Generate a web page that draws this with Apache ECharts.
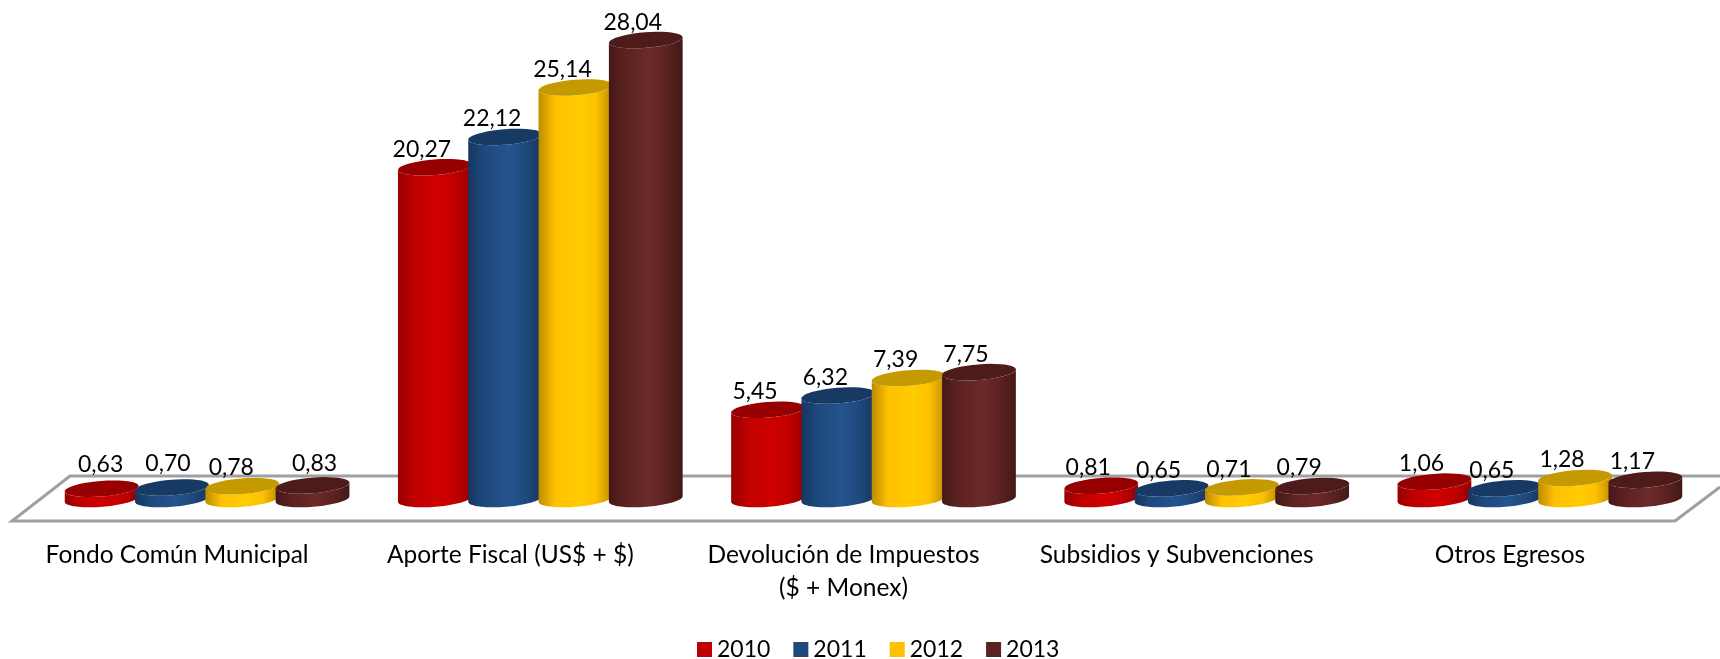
<!DOCTYPE html>
<html>
<head>
<meta charset="utf-8">
<title>Egresos</title>
<script src="https://cdn.jsdelivr.net/npm/echarts@6/dist/echarts.min.js"></script>
<style>
html, body { margin: 0; padding: 0; background: #fff; }
#chart { width: 1720px; height: 659px; }
</style>
</head>
<body>
<div id="chart"></div>
<script>
const categories = [
  'Fondo Común Municipal',
  'Aporte Fiscal (US$ + $)',
  'Devolución de Impuestos\n($ + Monex)',
  'Subsidios y Subvenciones',
  'Otros Egresos'
]
const years = ['2010', '2011', '2012', '2013']
const values2010 = [0.63, 20.27, 5.45, 0.81, 1.06]
const values2011 = [0.70, 22.12, 6.32, 0.65, 0.65]
const values2012 = [0.78, 25.14, 7.39, 0.71, 1.28]
const values2013 = [0.83, 28.04, 7.75, 0.79, 1.17]

// base, side highlight, side edge, top cap
const colors2010 = ['#c00000', '#d00000', '#960000', '#960000']
const colors2011 = ['#1f497d', '#24538f', '#153660', '#173a64']
const colors2012 = ['#ffc000', '#ffcc00', '#bd8c00', '#c49a00']
const colors2013 = ['#5c2221', '#6b2a28', '#431817', '#4d1c1a']

const FONT = 'Lato'
const TILT = -4.5 * Math.PI / 180
const RX = 37
const RY = 7.8
const PITCH = 0.211 // bar spacing as a share of the category band

// labels of the first group were moved by hand in the original, [dx, dy] per series
const firstGroupNudge = [[12, -6], [9, -6], [2, -1], [15, -4]]

function ellipsePoint(cx, cy, t) {
  const ex = RX * Math.cos(t)
  const ey = RY * Math.sin(t)
  return [
    cx + ex * Math.cos(TILT) - ey * Math.sin(TILT),
    cy + ex * Math.sin(TILT) + ey * Math.cos(TILT)
  ]
}

function ellipsePoints(cx, cy, from, to) {
  let pts = []
  for (let i = 0; i <= 40; i++) {
    pts.push(ellipsePoint(cx, cy, from + (to - from) * i / 40))
  }
  return pts
}

function cylinderSeries(name, data, colors, idx) {
  return {
    name: name,
    type: 'custom',
    data: data.map((v, i) => [i, v]),
    itemStyle: { color: colors[0] },
    z: 3 + idx,
    renderItem: (params, api) => {
      const band = api.size([1, 0])[0]
      const base = api.coord([api.value(0), 0])
      const top = api.coord([api.value(0), api.value(1)])
      const cx = base[0] + (idx - 1.5) * PITCH * band
      const nudge = api.value(0) === 0 ? firstGroupNudge[idx] : [0, 0]
      const body = ellipsePoints(cx, base[1], 0, Math.PI)
        .concat(ellipsePoints(cx, top[1], Math.PI, 0))
      const side = new echarts.graphic.LinearGradient(0, 0, 1, 0, [
        { offset: 0, color: colors[2] },
        { offset: 0.22, color: colors[0] },
        { offset: 0.55, color: colors[1] },
        { offset: 0.78, color: colors[0] },
        { offset: 1, color: colors[2] }
      ])
      return {
        type: 'group',
        children: [
          { type: 'polygon', shape: { points: body }, style: { fill: side } },
          {
            type: 'polygon',
            shape: { points: ellipsePoints(cx, top[1], 0, Math.PI * 2) },
            style: { fill: colors[3] }
          },
          {
            type: 'text',
            z2: 20,
            style: {
              x: cx - 13 + nudge[0],
              y: top[1] - 18 + nudge[1],
              text: api.value(1).toFixed(2).replace('.', ','),
              fill: '#000',
              font: '23px ' + FONT,
              align: 'center',
              verticalAlign: 'middle'
            }
          }
        ]
      }
    }
  }
}

const chart = echarts.init(document.getElementById('chart'))
chart.setOption({
  animation: false,
  backgroundColor: '#fff',
  textStyle: { fontFamily: FONT },
  grid: { left: 40.5, width: 1666, top: 8, height: 491 },
  graphic: [
    {
      type: 'polyline',
      z: 0,
      shape: { points: [[1720, 487], [1675, 521], [12, 521], [70, 476], [1720, 476]] },
      style: { stroke: '#a0a0a0', lineWidth: 3, fill: '#fff' }
    }
  ],
  legend: {
    data: years,
    left: 697,
    top: 638,
    padding: 0,
    icon: 'rect',
    itemWidth: 15,
    itemHeight: 15,
    itemGap: 23,
    textStyle: { fontSize: 23, color: '#000', fontFamily: FONT }
  },
  xAxis: {
    type: 'category',
    data: categories,
    axisLine: { show: false },
    axisTick: { show: false },
    axisLabel: {
      interval: 0,
      margin: 40,
      fontSize: 24.5,
      lineHeight: 33,
      color: '#000',
      fontFamily: FONT,
      padding: [0, 60, 0, 0]
    }
  },
  yAxis: {
    type: 'value',
    min: 0,
    max: 30,
    show: false
  },
  series: [
    cylinderSeries(years[0], values2010, colors2010, 0),
    cylinderSeries(years[1], values2011, colors2011, 1),
    cylinderSeries(years[2], values2012, colors2012, 2),
    cylinderSeries(years[3], values2013, colors2013, 3)
  ]
})
</script>
</body>
</html>
